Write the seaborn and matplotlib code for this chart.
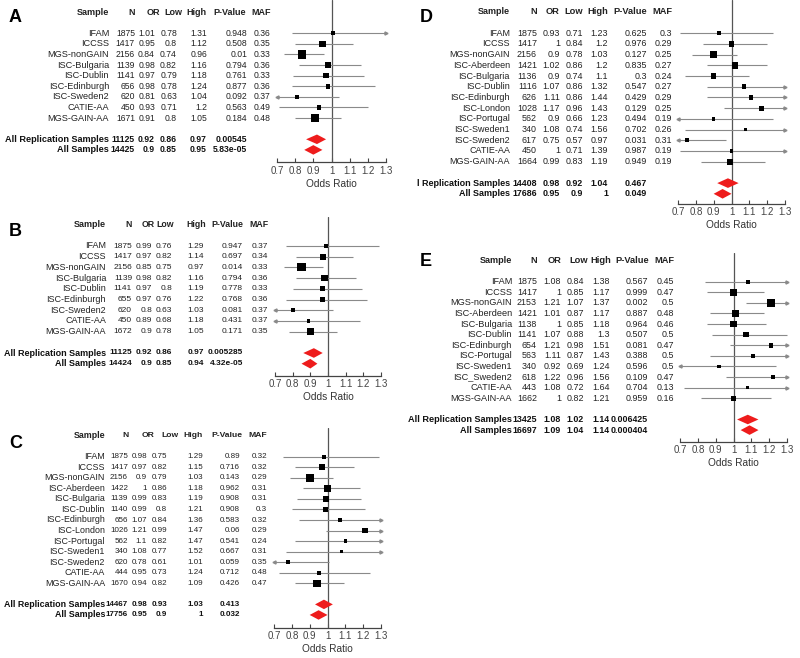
"""
Forest plots (panels A-E) : odds ratios par échantillon
"""
import matplotlib
matplotlib.use("Agg")
import matplotlib.pyplot as plt
import matplotlib.transforms as mtransforms
import numpy as np
import pandas as pd
import seaborn as sns

# ---- Données ----
samples_A = ["IFAM", "ICCSS", "MGS-nonGAIN", "ISC-Bulgaria", "ISC-Dublin", "ISC-Edinburgh",
             "ISC-Sweden2", "CATIE-AA", "MGS-GAIN-AA"]
n_A = [1875, 1417, 2156, 1139, 1141, 656, 620, 450, 1671]
or_A = [1.01, 0.95, 0.84, 0.98, 0.97, 0.98, 0.81, 0.93, 0.91]
low_A = [0.78, 0.8, 0.74, 0.82, 0.79, 0.78, 0.63, 0.71, 0.8]
high_A = [1.31, 1.12, 0.96, 1.16, 1.18, 1.24, 1.04, 1.2, 1.05]
p_A = [0.948, 0.508, 0.01, 0.794, 0.761, 0.877, 0.092, 0.563, 0.184]
maf_A = [0.36, 0.35, 0.33, 0.36, 0.33, 0.36, 0.37, 0.49, 0.48]
sum_labels_A = ["All Replication Samples", "All Samples"]
sum_n_A = [11125, 14425]
sum_or_A = [0.92, 0.9]
sum_low_A = [0.86, 0.85]
sum_high_A = [0.97, 0.95]
sum_p_A = [0.00545, 5.83e-05]

samples_B = ["IFAM", "ICCSS", "MGS-nonGAIN", "ISC-Bulgaria", "ISC-Dublin", "ISC-Edinburgh",
             "ISC-Sweden2", "CATIE-AA", "MGS-GAIN-AA"]
n_B = [1875, 1417, 2156, 1139, 1141, 655, 620, 450, 1672]
or_B = [0.99, 0.97, 0.85, 0.98, 0.97, 0.97, 0.8, 0.89, 0.9]
low_B = [0.76, 0.82, 0.75, 0.82, 0.8, 0.76, 0.63, 0.68, 0.78]
high_B = [1.29, 1.14, 0.97, 1.16, 1.19, 1.22, 1.03, 1.18, 1.05]
p_B = [0.947, 0.697, 0.014, 0.794, 0.778, 0.768, 0.081, 0.431, 0.171]
maf_B = [0.37, 0.34, 0.33, 0.36, 0.33, 0.36, 0.37, 0.37, 0.35]
sum_labels_B = ["All Replication Samples", "All Samples"]
sum_n_B = [11125, 14424]
sum_or_B = [0.92, 0.9]
sum_low_B = [0.86, 0.85]
sum_high_B = [0.97, 0.94]
sum_p_B = [0.005285, 4.32e-05]

samples_C = ["IFAM", "ICCSS", "MGS-nonGAIN", "ISC-Aberdeen", "ISC-Bulgaria", "ISC-Dublin",
             "ISC-Edinburgh", "ISC-London", "ISC-Portugal", "ISC-Sweden1", "ISC-Sweden2",
             "CATIE-AA", "MGS-GAIN-AA"]
n_C = [1875, 1417, 2156, 1422, 1139, 1140, 656, 1026, 562, 340, 620, 444, 1670]
or_C = [0.98, 0.97, 0.9, 1, 0.99, 0.99, 1.07, 1.21, 1.1, 1.08, 0.78, 0.95, 0.94]
low_C = [0.75, 0.82, 0.79, 0.86, 0.83, 0.8, 0.84, 0.99, 0.82, 0.77, 0.61, 0.73, 0.82]
high_C = [1.29, 1.15, 1.03, 1.18, 1.19, 1.21, 1.36, 1.47, 1.47, 1.52, 1.01, 1.24, 1.09]
p_C = [0.89, 0.716, 0.143, 0.962, 0.908, 0.908, 0.583, 0.06, 0.541, 0.667, 0.059, 0.712, 0.426]
maf_C = [0.32, 0.32, 0.29, 0.31, 0.31, 0.3, 0.32, 0.29, 0.24, 0.31, 0.35, 0.48, 0.47]
sum_labels_C = ["All Replication Samples", "All Samples"]
sum_n_C = [14467, 17756]
sum_or_C = [0.98, 0.95]
sum_low_C = [0.93, 0.9]
sum_high_C = [1.03, 1]
sum_p_C = [0.413, 0.032]

samples_D = ["IFAM", "ICCSS", "MGS-nonGAIN", "ISC-Aberdeen", "ISC-Bulgaria", "ISC-Dublin",
             "ISC-Edinburgh", "ISC-London", "ISC-Portugal", "ISC-Sweden1", "ISC-Sweden2",
             "CATIE-AA", "MGS-GAIN-AA"]
n_D = [1875, 1417, 2156, 1421, 1136, 1116, 626, 1028, 562, 340, 617, 450, 1664]
or_D = [0.93, 1, 0.9, 1.02, 0.9, 1.07, 1.11, 1.17, 0.9, 1.08, 0.75, 1, 0.99]
low_D = [0.71, 0.84, 0.78, 0.86, 0.74, 0.86, 0.86, 0.96, 0.66, 0.74, 0.57, 0.71, 0.83]
high_D = [1.23, 1.2, 1.03, 1.2, 1.1, 1.32, 1.44, 1.43, 1.23, 1.56, 0.97, 1.39, 1.19]
p_D = [0.625, 0.976, 0.127, 0.835, 0.3, 0.547, 0.429, 0.129, 0.494, 0.702, 0.031, 0.987, 0.949]
maf_D = [0.3, 0.29, 0.25, 0.27, 0.24, 0.27, 0.29, 0.25, 0.19, 0.26, 0.31, 0.19, 0.19]
sum_labels_D = ["l Replication Samples", "All Samples"]
sum_n_D = [14408, 17686]
sum_or_D = [0.98, 0.95]
sum_low_D = [0.92, 0.9]
sum_high_D = [1.04, 1]
sum_p_D = [0.467, 0.049]

samples_E = ["IFAM", "ICCSS", "MGS-nonGAIN", "ISC-Aberdeen", "ISC-Bulgaria", "ISC-Dublin",
             "ISC-Edinburgh", "ISC-Portugal", "ISC-Sweden1", "ISC_Sweden2", "CATIE-AA",
             "MGS-GAIN-AA"]
n_E = [1875, 1417, 2153, 1421, 1138, 1141, 654, 563, 340, 618, 443, 1662]
or_E = [1.08, 1, 1.21, 1.01, 1, 1.07, 1.21, 1.11, 0.92, 1.22, 1.08, 1]
low_E = [0.84, 0.85, 1.07, 0.87, 0.85, 0.88, 0.98, 0.87, 0.69, 0.96, 0.72, 0.82]
high_E = [1.38, 1.17, 1.37, 1.17, 1.18, 1.3, 1.51, 1.43, 1.24, 1.56, 1.64, 1.21]
p_E = [0.567, 0.999, 0.002, 0.887, 0.964, 0.507, 0.081, 0.388, 0.596, 0.109, 0.704, 0.959]
maf_E = [0.45, 0.47, 0.5, 0.48, 0.46, 0.5, 0.47, 0.5, 0.5, 0.47, 0.13, 0.16]
sum_labels_E = ["All Replication Samples", "All Samples"]
sum_n_E = [13425, 16697]
sum_or_E = [1.08, 1.09]
sum_low_E = [1.02, 1.04]
sum_high_E = [1.14, 1.14]
sum_p_E = [0.006425, 0.000404]

headers = ["Sample", "N", "OR", "Low", "High", "P-Value", "MAF"]
xticks = [0.7, 0.8, 0.9, 1.0, 1.1, 1.2, 1.3]
xtick_labels = ["0.7", "0.8", "0.9", "1", "1.1", "1.2", "1.3"]

# ---- Mise en page (pixels) ----
W, H = 800, 658
layouts = {
    "A": dict(letter=(9, 17), first=33.3, step=10.6, axis=162.3, top=0, x0=277, x1=386,
              fs_name=6.6, fs_num=6.2,
              cols=[109, 135, 155, 177, 207, 247, 270], heads=[109, 135, 160, 182, 207, 246, 271]),
    "B": dict(letter=(9, 232), first=246, step=10.7, axis=376, top=217, x0=275, x1=381,
              fs_name=6.5, fs_num=6.0,
              cols=[106, 132, 152, 172, 204, 243, 268], heads=[106, 132, 155, 174, 206, 243, 268]),
    "C": dict(letter=(9, 443), first=456.7, step=10.55, axis=628, top=428, x0=274, x1=381,
              fs_name=6.4, fs_num=5.8,
              cols=[105, 128, 147, 167, 203, 240, 267], heads=[105, 129, 154, 179, 203, 242, 267]),
    "D": dict(letter=(420, 17), first=33.3, step=10.7, axis=204, top=0, x0=678, x1=785,
              fs_name=6.5, fs_num=6.4,
              cols=[510, 537, 560, 583, 608, 647, 672], heads=[510, 537, 560, 583, 608, 647, 672]),
    "E": dict(letter=(420, 261), first=281.7, step=10.6, axis=441.7, top=253, x0=680, x1=787,
              fs_name=6.6, fs_num=6.4,
              cols=[512, 537, 561, 584, 610, 648, 674], heads=[512, 537, 562, 588, 611, 649, 674]),
}

panels = {
    "A": (samples_A, n_A, or_A, low_A, high_A, p_A, maf_A,
          sum_labels_A, sum_n_A, sum_or_A, sum_low_A, sum_high_A, sum_p_A),
    "B": (samples_B, n_B, or_B, low_B, high_B, p_B, maf_B,
          sum_labels_B, sum_n_B, sum_or_B, sum_low_B, sum_high_B, sum_p_B),
    "C": (samples_C, n_C, or_C, low_C, high_C, p_C, maf_C,
          sum_labels_C, sum_n_C, sum_or_C, sum_low_C, sum_high_C, sum_p_C),
    "D": (samples_D, n_D, or_D, low_D, high_D, p_D, maf_D,
          sum_labels_D, sum_n_D, sum_or_D, sum_low_D, sum_high_D, sum_p_D),
    "E": (samples_E, n_E, or_E, low_E, high_E, p_E, maf_E,
          sum_labels_E, sum_n_E, sum_or_E, sum_low_E, sum_high_E, sum_p_E),
}

sns.set_theme(style="white")
plt.rcParams["font.family"] = ["Liberation Sans", "DejaVu Sans"]

fig = plt.figure(figsize=(8, 6.58), dpi=100)
LINE = "#8a8a8a"
TXT = "#222222"


def fmt(v):
    return f"{v:g}"


for key, lay in layouts.items():
    (names, ns, ors, lows, highs, ps, mafs,
     s_labels, s_ns, s_ors, s_lows, s_highs, s_ps) = panels[key]
    nrow = len(names)
    fsn, fsv = lay["fs_name"], lay["fs_num"]

    ax = fig.add_axes([lay["x0"] / W, 1 - lay["axis"] / H,
                       (lay["x1"] - lay["x0"]) / W, (lay["axis"] - lay["top"]) / H])
    ybot = (lay["axis"] - lay["first"]) / lay["step"]
    ytop = (lay["top"] - lay["first"]) / lay["step"]
    ax.set_xlim(0.7, 1.3)
    ax.set_ylim(ybot, ytop)

    df = pd.DataFrame({"sample": names, "OR": ors, "low": lows, "high": highs})
    df["row"] = np.arange(nrow)
    # poids inverse-variance (taille des carrés)
    df["w"] = 1.0 / np.log(df["high"] / df["low"]) ** 2

    ax.axvline(1.0, color="#555555", lw=0.9, zorder=1)
    ax.hlines(df["row"], df["low"].clip(0.7, 1.3), df["high"].clip(0.7, 1.3),
              color=LINE, lw=0.8, zorder=2, clip_on=False)
    for _, r in df.iterrows():
        if r["high"] > 1.3:
            ax.plot(1.3, r["row"], marker=">", ms=2.2, color=LINE, clip_on=False, zorder=2)
        if r["low"] < 0.7:
            ax.plot(0.7, r["row"], marker="<", ms=2.2, color=LINE, clip_on=False, zorder=2)
    sns.scatterplot(data=df, x="OR", y="row", size="w", sizes=(0, 46), size_norm=(0, 20),
                    marker="s", color="black", edgecolor="none", legend=False,
                    ax=ax, zorder=3, clip_on=False)

    # diamants des méta-analyses
    for i in range(len(s_labels)):
        y = nrow + 1 + i
        ax.fill([s_lows[i], s_ors[i], s_highs[i], s_ors[i]],
                [y, y - 0.45, y, y + 0.45], color="#ee1c1c", lw=0, zorder=3, clip_on=False)

    # axe
    sns.despine(ax=ax, left=True, top=True, right=True)
    ax.spines["bottom"].set_color("#444444")
    ax.spines["bottom"].set_linewidth(0.9)
    ax.set_yticks([])
    ax.set_xticks(xticks)
    ax.set_xticklabels(xtick_labels)
    ax.tick_params(axis="x", direction="in", length=3, width=0.8, color="#444444",
                   labelsize=7, labelcolor="#444444", pad=2.5, bottom=True)
    ax.set_xlabel("Odds Ratio", fontsize=7.3, color="#333333", labelpad=2)
    ax.set_ylabel("")
    ax.grid(False)

    # tableau
    tr = mtransforms.blended_transform_factory(fig.transFigure, ax.transData)
    for j, (hx, h) in enumerate(zip(lay["heads"], headers)):
        ax.text(hx / W, -2, h, transform=tr, ha="right", va="center",
                fontsize=fsn if j == 0 else fsv + 0.3, fontweight="bold", color=TXT)
    for i in range(nrow):
        vals = [names[i], str(ns[i]), fmt(ors[i]), fmt(lows[i]), fmt(highs[i]),
                fmt(ps[i]), fmt(mafs[i])]
        for j, (cx, v) in enumerate(zip(lay["cols"], vals)):
            ax.text(cx / W, i, v, transform=tr, ha="right", va="center",
                    fontsize=fsn if j == 0 else fsv, color=TXT)
    for i in range(len(s_labels)):
        vals = [s_labels[i], str(s_ns[i]), fmt(s_ors[i]), fmt(s_lows[i]),
                fmt(s_highs[i]), fmt(s_ps[i])]
        for j, (cx, v) in enumerate(zip(lay["cols"][:6], vals)):
            ax.text(cx / W, nrow + 1 + i, v, transform=tr, ha="right", va="center",
                    fontsize=fsn if j == 0 else fsv, fontweight="bold", color="#111111")

    lx, ly = lay["letter"]
    fig.text(lx / W, 1 - ly / H, key, fontsize=13, fontweight="bold",
             ha="left", va="center", color="black")

fig.savefig("out.png", dpi=100)
plt.close(fig)
